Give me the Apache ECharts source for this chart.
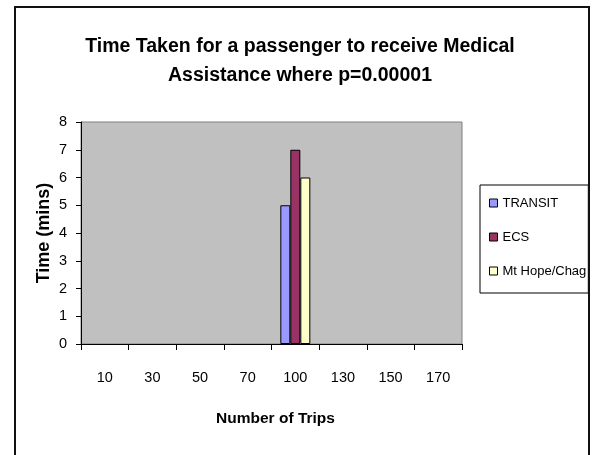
<!DOCTYPE html>
<html>
<head>
<meta charset="utf-8">
<script src="https://cdn.jsdelivr.net/npm/echarts@6/dist/echarts.min.js"></script>
<style>
html,body{margin:0;padding:0;background:#fff;}
#chart{width:595px;height:455px;}
</style>
</head>
<body>
<div id="chart"></div>
<script>
var categories = ['10', '30', '50', '70', '100', '130', '150', '170'];
var transit = [null, null, null, null, 5, null, null, null];
var ecs = [null, null, null, null, 7, null, null, null];
var mtHope = [null, null, null, null, 6, null, null, null];
var yTicks = [0, 1, 2, 3, 4, 5, 6, 7, 8];

var FONT = "'Liberation Sans', Arial, Helvetica, sans-serif";
var chart = echarts.init(document.getElementById('chart'));

function barSeries(name, data, color) {
  return {
    name: name,
    type: 'bar',
    data: data,
    barWidth: 10,
    barGap: '0%',
    itemStyle: { color: color, borderColor: '#000', borderWidth: 1 }
  };
}

chart.setOption({
  animation: false,
  backgroundColor: '#fff',
  title: {
    text: 'Time Taken for a passenger to receive Medical\nAssistance where p=0.00001',
    left: 295,
    top: 27,
    textAlign: 'center',
    textStyle: { fontFamily: FONT, fontSize: 19.5, fontWeight: 'bold', color: '#000', lineHeight: 29 }
  },
  graphic: [{
    type: 'rect',
    shape: { x: 15, y: 7, width: 574, height: 460 },
    style: { fill: 'none', stroke: '#111', lineWidth: 2 },
    silent: true,
    z: 100
  }],
  legend: {
    orient: 'vertical',
    left: 480,
    top: 185,
    padding: [10, 2, 14, 9],
    itemGap: 18,
    itemWidth: 8,
    itemHeight: 8,
    icon: 'rect',
    borderColor: '#000',
    borderWidth: 1,
    backgroundColor: '#fff',
    itemStyle: { borderColor: '#000', borderWidth: 1 },
    textStyle: { fontFamily: FONT, fontSize: 13, color: '#000', lineHeight: 16 },
    data: ['TRANSIT', 'ECS', 'Mt Hope/Chag']
  },
  grid: {
    left: 81, top: 122, right: 133, bottom: 111,
    show: true,
    backgroundColor: '#C0C0C0',
    borderColor: '#808080',
    borderWidth: 1
  },
  xAxis: {
    type: 'category',
    data: categories,
    name: 'Number of Trips',
    nameLocation: 'middle',
    nameGap: 67,
    nameMoveOverlap: false,
    nameTextStyle: { fontFamily: FONT, fontSize: 15.5, fontWeight: 'bold', color: '#000', padding: [0, 0, 0, 8] },
    axisLine: { lineStyle: { color: '#000', width: 1 } },
    axisTick: { show: true, interval: 0, length: 6, lineStyle: { color: '#000' } },
    axisLabel: { interval: 0, margin: 26, fontFamily: FONT, fontSize: 14.5, color: '#000' },
    splitLine: { show: false }
  },
  yAxis: {
    type: 'value',
    min: yTicks[0],
    max: yTicks[yTicks.length - 1],
    interval: 1,
    name: 'Time (mins)',
    nameLocation: 'middle',
    nameGap: 28,
    nameMoveOverlap: false,
    nameTextStyle: { fontFamily: FONT, fontSize: 18, fontWeight: 'bold', color: '#000' },
    axisLine: { show: true, lineStyle: { color: '#000', width: 1 } },
    axisTick: { show: true, length: 5, lineStyle: { color: '#000' } },
    axisLabel: { margin: 14, fontFamily: FONT, fontSize: 14.5, color: '#000' },
    splitLine: { show: false }
  },
  series: [
    barSeries('TRANSIT', transit, '#9999FF'),
    barSeries('ECS', ecs, '#993366'),
    barSeries('Mt Hope/Chag', mtHope, '#FFFFCC')
  ]
});
</script>
</body>
</html>
